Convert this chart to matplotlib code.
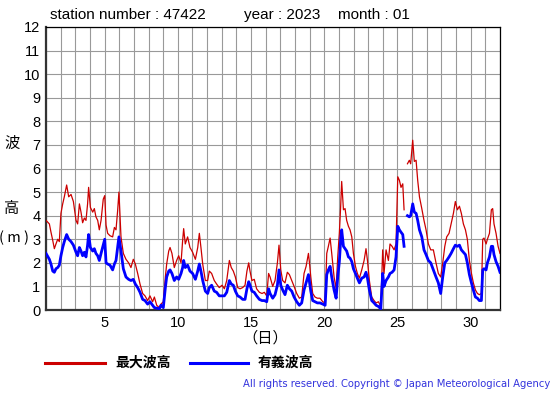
import numpy as np
import matplotlib.pyplot as plt
from matplotlib.lines import Line2D

plt.rcParams['font.family'] = ['Liberation Sans', 'DejaVu Sans']

# days (fractional, January 2023)
days = [1.00, 1.23, 1.34, 1.46, 1.57, 1.68, 1.80, 1.91, 2.02, 2.14, 2.25, 2.41, 2.55, 2.71, 2.87,
        3.05, 3.16, 3.28, 3.39, 3.50, 3.62, 3.73, 3.84, 3.91, 4.03, 4.19, 4.30, 4.41, 4.53, 4.64,
        4.76, 4.91, 5.01, 5.10, 5.21, 5.37, 5.55, 5.67, 5.78, 5.89, 5.98, 6.12, 6.28, 6.46, 6.64,
        6.80, 6.96, 7.10, 7.26, 7.42, 7.60, 7.76, 7.94, 8.10, 8.28, 8.40, 8.56, 8.74, 8.85, 9.01,
        9.15, 9.24, 9.38, 9.47, 9.60, 9.76, 9.92, 10.06, 10.22, 10.33, 10.40, 10.51, 10.67, 10.83,
        11.01, 11.20, 11.36, 11.47, 11.58, 11.70, 11.88, 12.04, 12.15, 12.31, 12.49, 12.65, 12.83,
        13.02, 13.18, 13.34, 13.52, 13.65, 13.79, 13.93, 14.09, 14.25, 14.43, 14.59, 14.72, 14.84,
        14.93, 15.06, 15.22, 15.38, 15.57, 15.75, 15.91, 16.07, 16.20,
        16.30, 16.48, 16.64, 16.80, 16.91, 17.03, 17.16, 17.32, 17.48, 17.62, 17.78, 17.94, 18.12,
        18.30, 18.46, 18.62, 18.76, 18.92, 18.99, 19.08, 19.21, 19.37, 19.53, 19.71, 19.90, 20.06,
        20.17, 20.28, 20.40, 20.51, 20.67, 20.81, 20.92, 21.03, 21.12, 21.19, 21.31, 21.42, 21.53,
        21.65, 21.76, 21.88, 21.99, 22.13, 22.26, 22.40, 22.56, 22.72, 22.85, 22.95, 23.08, 23.24,
        23.40, 23.54, 23.70, 23.86, 23.99, 24.08, 24.22, 24.38, 24.49, 24.63, 24.77, 24.90, 25.02,
        25.13, 25.24, 25.36, 25.45, 25.56, 25.68, 25.81, 25.90, 26.04, 26.15, 26.27, 26.38, 26.50,
        26.66, 26.81, 26.95, 27.11, 27.27, 27.45, 27.63, 27.79, 27.95, 28.09, 28.23, 28.36, 28.52,
        28.66, 28.82, 28.95, 29.09, 29.23, 29.36, 29.50, 29.64, 29.77, 29.91, 30.05, 30.18, 30.32,
        30.46, 30.59, 30.73, 30.82, 30.91, 31.05, 31.14, 31.28, 31.41, 31.50, 31.59, 31.73, 31.87,
        32.00]

# 最大波高 (m)
wave_max = [3.8, 3.65, 3.3, 2.95, 2.6, 2.8, 3.0, 2.9, 4.1, 4.5, 4.8, 5.3, 4.8, 4.9, 4.6,
            3.8, 3.65, 4.5, 4.15, 3.7, 3.9, 3.8, 4.5, 5.2, 4.35, 4.15, 4.3, 3.95, 3.8, 3.4,
            3.8, 4.7, 4.85, 3.6, 3.25, 3.15, 3.1, 3.5, 3.4, 4.2, 5.0, 3.1, 2.4, 2.15, 2.0,
            1.8, 2.15, 1.95, 1.55, 1.1, 0.7, 0.6, 0.4, 0.6, 0.35, 0.55, 0.2, 0.1, 0.25, 0.35,
            1.4, 1.95, 2.5, 2.65, 2.4, 1.8, 2.1, 2.3, 2.0, 2.95, 3.45, 2.8, 3.1, 2.65,
            2.45, 2.15, 2.65, 3.25, 2.65, 1.95, 1.25, 1.25, 1.65, 1.55, 1.25, 1.1, 0.95,
            1.05, 0.9, 1.25, 2.1, 1.8, 1.65, 1.4, 0.95, 0.9, 0.95, 1.05, 1.65, 2.0,
            1.65, 1.25, 1.3, 0.9, 0.75, 0.7, 0.75, 0.6, 1.55,
            1.4, 1.0, 1.25, 2.0, 2.75, 1.7, 1.25, 1.15, 1.6, 1.5, 1.25, 1.0, 0.7,
            0.5, 0.55, 1.55, 1.85, 2.4, 2.0, 1.4, 0.7, 0.55, 0.5, 0.5, 0.35, 0.3,
            2.4, 2.7, 3.05, 2.4, 1.4, 0.9, 2.25, 3.25, 4.4, 5.45, 4.25, 4.3, 3.8,
            3.55, 3.4, 3.1, 2.4, 1.85, 1.55, 1.35, 1.7, 2.1, 2.6, 2.1, 1.25, 0.55,
            0.4, 0.3, 0.35, 0.15, 2.55, 1.55, 2.55, 2.1, 2.8, 2.7, 2.55, 2.8, 5.65,
            5.5, 5.2, 5.35, 4.25, np.nan, 6.2, 6.35, 6.2, 7.2, 6.3, 6.35, 5.5, 4.8,
            4.3, 3.8, 3.4, 2.8, 2.55, 2.55, 2.0, 1.55, 1.4, 2.0, 2.7, 3.1, 3.25,
            3.65, 4.1, 4.6, 4.25, 4.4, 4.1, 3.65, 3.4, 3.0, 2.1, 1.55, 1.15, 0.85,
            0.7, 0.65, 0.7, 3.0, 3.05, 2.8, 3.0, 3.25, 4.25, 4.3, 3.65, 3.25, 2.7,
            2.4]

# 有義波高 (m)
wave_sig = [2.4, 2.15, 1.95, 1.65, 1.6, 1.75, 1.8, 1.9, 2.3, 2.65, 2.9, 3.2, 3.0, 2.9, 2.75,
            2.45, 2.3, 2.65, 2.5, 2.3, 2.45, 2.25, 2.75, 3.2, 2.65, 2.5, 2.6, 2.4, 2.3, 2.1,
            2.4, 2.75, 3.0, 2.0, 1.95, 1.9, 1.7, 1.95, 2.1, 2.65, 3.1, 2.5, 1.75, 1.4, 1.3,
            1.25, 1.3, 1.1, 0.95, 0.75, 0.45, 0.4, 0.25, 0.35, 0.2, 0.1, 0.08, 0.05, 0.2, 0.1,
            0.95, 1.4, 1.65, 1.7, 1.55, 1.25, 1.4, 1.3, 1.55, 1.8, 2.1, 1.8, 1.9, 1.65,
            1.55, 1.3, 1.65, 1.95, 1.65, 1.25, 0.8, 0.7, 0.95, 1.05, 0.8, 0.75, 0.6,
            0.6, 0.6, 0.75, 1.25, 1.1, 1.05, 0.8, 0.6, 0.55, 0.45, 0.45, 0.9, 1.2,
            1.05, 0.8, 0.75, 0.6, 0.45, 0.4, 0.4, 0.35, 0.9,
            0.7, 0.5, 0.65, 1.05, 1.7, 1.05, 0.85, 0.65, 1.05, 0.9, 0.8, 0.55, 0.35,
            0.2, 0.3, 0.85, 1.15, 1.5, 1.2, 0.8, 0.4, 0.35, 0.3, 0.3, 0.25, 0.2,
            1.5, 1.7, 1.85, 1.4, 0.85, 0.5, 1.4, 2.05, 2.95, 3.4, 2.7, 2.6, 2.5,
            2.25, 2.2, 2.05, 1.75, 1.55, 1.35, 1.15, 1.35, 1.4, 1.6, 1.35, 0.85, 0.4,
            0.3, 0.2, 0.15, 0.05, 1.55, 1.0, 1.25, 1.4, 1.55, 1.6, 1.7, 2.25, 3.55,
            3.4, 3.3, 3.2, 2.7, np.nan, 4.0, 3.95, 4.0, 4.5, 4.15, 4.1, 3.8, 3.4,
            3.1, 2.55, 2.35, 2.1, 2.0, 1.7, 1.4, 1.15, 0.7, 1.4, 2.0, 2.1, 2.25,
            2.4, 2.6, 2.75, 2.7, 2.75, 2.55, 2.45, 2.35, 2.0, 1.5, 1.15, 0.85, 0.55,
            0.5, 0.4, 0.4, 1.7, 1.75, 1.7, 2.0, 2.25, 2.7, 2.7, 2.35, 2.05, 1.85,
            1.6]

ytick_vals = list(range(0, 13))
xtick_labels = {5: '5', 10: '10', 15: '15', 20: '20', 25: '25', 30: '30'}

fig = plt.figure(figsize=(5.55, 3.95), dpi=100)
ax = fig.add_axes([46 / 555, 1 - 310 / 395, 454 / 555, 283 / 395])

ax.plot(days, wave_max, color='#cc0000', lw=0.9, zorder=3)
ax.plot(days, wave_sig, color='#0000ff', lw=2.0, zorder=4)

ax.set_xlim(1, 32)
ax.set_ylim(0, 12)
ax.set_xticks(range(1, 33))
ax.set_xticklabels([xtick_labels.get(d, '') for d in range(1, 33)], fontsize=10.5)
ax.set_yticks(ytick_vals)
ax.set_yticklabels([str(v) for v in ytick_vals], fontsize=10.5)
ax.tick_params(length=0, pad=4)
ax.grid(True, color='#999999', lw=0.8)
ax.set_axisbelow(True)

for side in ['top', 'right']:
    ax.spines[side].set_linewidth(0.9)
for side in ['left', 'bottom']:
    ax.spines[side].set_linewidth(1.6)
    ax.spines[side].set_color('#333333')

cjk = ['Noto Sans CJK JP', 'DejaVu Sans']
title_y = 1 - 15 / 395
fig.text(50 / 555, title_y, 'station number : 47422', fontsize=11, va='center', ha='left')
fig.text(244 / 555, title_y, 'year : 2023', fontsize=11, va='center', ha='left')
fig.text(338 / 555, title_y, 'month : 01', fontsize=11, va='center', ha='left')

fig.text(12 / 555, 1 - 143 / 395, '波', family=cjk, fontsize=11, ha='center', va='center')
fig.text(12 / 555, 1 - 208 / 395, '高', family=cjk, fontsize=11, ha='center', va='center')
fig.text(14 / 555, 1 - 238 / 395, '( m )', family=cjk, fontsize=10.5, ha='center', va='center')
fig.text(265 / 555, 1 - 338 / 395, '（日）', family=cjk, fontsize=11, ha='center', va='center')

# legend
fig.add_artist(Line2D([45 / 555, 105 / 555], [1 - 363 / 395] * 2, color='#cc0000', lw=2.2))
fig.add_artist(Line2D([190 / 555, 248 / 555], [1 - 363 / 395] * 2, color='#0000ff', lw=2.2))
fig.text(115 / 555, 1 - 363 / 395, '最大波高', family=cjk, fontsize=10, fontweight='bold',
         ha='left', va='center')
fig.text(258 / 555, 1 - 363 / 395, '有義波高', family=cjk, fontsize=10, fontweight='bold',
         ha='left', va='center')

fig.text(550 / 555, 1 - 384 / 395, 'All rights reserved. Copyright © Japan Meteorological Agency',
         family=['DejaVu Sans'], fontsize=7.2, color='#3333dd', ha='right', va='center')

fig.savefig('out.png', dpi=100)
